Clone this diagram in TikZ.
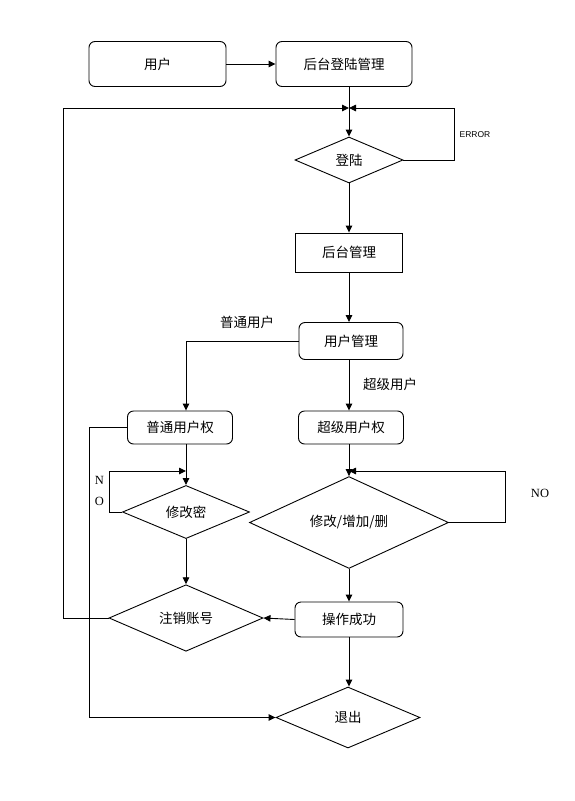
\documentclass[tikz,border=0pt]{standalone}
\usepackage{fontspec}
\setmainfont{Liberation Serif}
\newfontfamily\cjk{Noto Sans CJK SC}
\newfontfamily\lsans{Liberation Sans}
\usetikzlibrary{shapes.geometric,arrows.meta}
\tikzset{
  base/.style={draw=black, line width=0.9pt, font=\cjk\fontsize{13.5}{15}\selectfont, inner sep=0pt},
  rbox/.style={base, rectangle, rounded corners=6pt},
  sbox/.style={base, rectangle},
  dia/.style={base, diamond},
  conn/.style={line width=0.9pt},
  arr/.style={conn, -{Triangle[length=7pt,width=6.5pt]}},
  lab/.style={font=\cjk\fontsize{13.5}{15}\selectfont, inner sep=0pt},
  en/.style={font=\fontsize{12.5}{14}\selectfont, inner sep=0pt},
}
\begin{document}
\begin{tikzpicture}[x=1pt,y=-1pt]
\useasboundingbox[fill=white] (0,0) rectangle (574,801);
% nodes
\node[rbox, minimum width=137pt, minimum height=45pt] (yh) at (157.5,64) {用户};
\node[rbox, minimum width=136pt, minimum height=45pt] (htdl) at (344,64) {后台登陆管理};
\coordinate (j1) at (349,108);
\node[dia, minimum width=108pt, minimum height=46pt] (dl) at (349,160) {登陆};
\node[sbox, minimum width=107pt, minimum height=39pt] (htgl) at (349,252.5) {后台管理};
\node[rbox, minimum width=104pt, minimum height=37pt] (yhgl) at (351,341) {用户管理};
\node[rbox, minimum width=105pt, minimum height=33pt] (ptqx) at (180,427.5) {普通用户权};
\node[rbox, minimum width=105pt, minimum height=33pt] (cjqx) at (351,427.5) {超级用户权};
\node[dia, minimum width=127pt, minimum height=50pt] (xgm) at (186,512) {修改密};
\node[dia, minimum width=199pt, minimum height=57pt] (xzs) at (349,522.5) {修改/增加/删};
\node[dia, minimum width=154pt, minimum height=62pt] (zx) at (186,618) {注销账号};
\node[rbox, minimum width=108pt, minimum height=35pt] (cgcg) at (349,619.5) {操作成功};
\node[dia, minimum width=144pt, minimum height=61pt] (tc) at (348,717.5) {退出};
\coordinate (j2) at (186,471);
\coordinate (j3) at (349,471);
% labels
\node[font=\lsans\fontsize{8.5}{10}\selectfont, inner sep=0pt] (err) at (475,134.5) {ERROR};
\node[lab] (lpt) at (247,322) {普通用户};
\node[lab] (lcj) at (390,384.5) {超级用户};
\node[en] (ln) at (99.5,480) {N};
\node[en] (lo) at (99.5,501) {O};
\node[en] (lno) at (540,493) {NO};
% connectors
\draw[arr] (yh.east) -- (htdl.west);
\draw[conn] (htdl.south -| j1) -- (j1);
\draw[arr] (j1) -- (dl.north);
\draw[arr] (dl.east) -- (454,160) |- (j1);
\draw[arr] (zx.west) -- (63,618) |- (j1);
\draw[arr] (dl.south) -- (htgl.north);
\draw[arr] (htgl.south) -- (yhgl.north -| htgl.south);
\draw[arr] (yhgl.west) -| (ptqx.north -| xgm.north);
\draw[arr] (yhgl.south -| dl.south) -- (cjqx.north -| dl.south);
\draw[conn] (ptqx.south -| xgm.north) -- (j2);
\draw[arr] (j2) -- (xgm.north);
\draw[arr] (xgm.west) -- (109,512) |- (j2);
\draw[conn] (cjqx.south -| xzs.north) -- (j3);
\draw[arr] (j3) -- (xzs.north);
\draw[arr] (xzs.east) -- (505,522.5) |- (j3);
\draw[arr] (xgm.south) -- (zx.north);
\draw[arr] (xzs.south) -- (cgcg.north);
\draw[arr] (cgcg.west) -- (zx.east);
\draw[arr] (cgcg.south) -- (tc.north -| cgcg.south);
\draw[arr] (ptqx.west) -- (89,427.5) |- (tc.west);
\end{tikzpicture}
\end{document}
